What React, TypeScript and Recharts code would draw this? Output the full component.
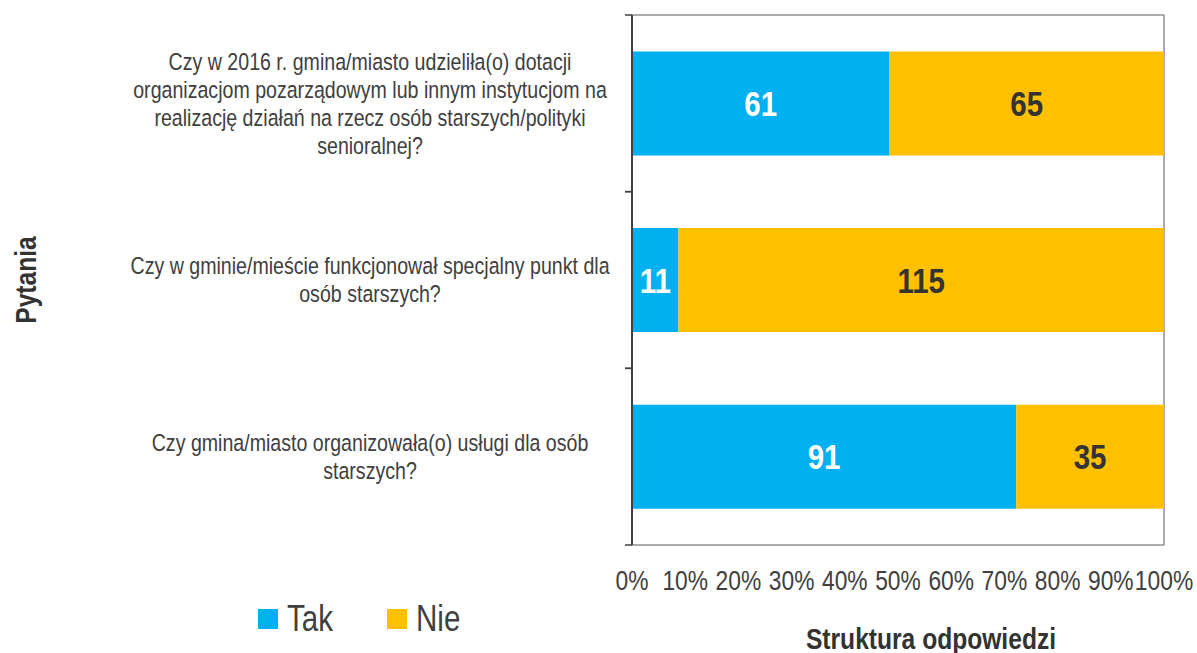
import React from 'react';
import { BarChart, Bar, XAxis, YAxis, CartesianGrid } from 'recharts';

const FONT = "'Liberation Sans', Arial, sans-serif";
const NARROW = 0.82;

const categories = [
  'Czy w 2016 r. gmina/miasto udzieliła(o) dotacji\norganizacjom pozarządowym lub innym instytucjom na\nrealizację działań na rzecz osób starszych/polityki\nsenioralnej?',
  'Czy w gminie/mieście funkcjonował specjalny punkt dla\nosób starszych?',
  'Czy gmina/miasto organizowała(o) usługi dla osób\nstarszych?',
];
const takValues = [61, 11, 91];
const nieValues = [65, 115, 35];
const xTicks = [0, 0.1, 0.2, 0.3, 0.4, 0.5, 0.6, 0.7, 0.8, 0.9, 1];
const xTickLabels = ['0%', '10%', '20%', '30%', '40%', '50%', '60%', '70%', '80%', '90%', '100%'];
const seriesNames = ['Tak', 'Nie'];
const seriesColors = ['#00B0F0', '#FFC000'];

const data = categories.map((q, i) => ({ q, tak: takValues[i], nie: nieValues[i] }));

const CategoryTick = (props: any) => {
  const { x, y, payload } = props;
  const lines = String(payload.value).split('\n');
  const lh = 28;
  const cx = x - 262;
  const startY = -((lines.length - 1) * lh) / 2;
  const half = payload.offset ?? 0;
  return (
    <g>
      <line x1={x - 7} x2={x} y1={y - half} y2={y - half} stroke="#404040" strokeWidth={1.5} />
      <line x1={x - 7} x2={x} y1={y + half} y2={y + half} stroke="#404040" strokeWidth={1.5} />
      <g transform={`translate(${cx},${y}) scale(${NARROW},1)`}>
        <text x={0} y={startY} textAnchor="middle" fontFamily={FONT} fontSize={23.9} fill="#404040">
          {lines.map((l, i) => (
            <tspan key={i} x={0} y={startY + i * lh} dominantBaseline="central">
              {l}
            </tspan>
          ))}
        </text>
      </g>
    </g>
  );
};

const XTick = (props: any) => {
  const { x, y, index } = props;
  return (
    <g transform={`translate(${x},${y + 37}) scale(0.8,1)`}>
      <text x={0} y={0} textAnchor="middle" fontFamily={FONT} fontSize={28.5} fill="#404040">
        {xTickLabels[index] ?? ''}
      </text>
    </g>
  );
};

const makeLabel = (values: number[], color: string) => (props: any) => {
  const { x, y, width, height, index } = props;
  return (
    <g transform={`translate(${x + width / 2},${y + height / 2}) scale(${NARROW},1)`}>
      <text
        x={0}
        y={0}
        textAnchor="middle"
        dominantBaseline="central"
        fontFamily={FONT}
        fontWeight="bold"
        fontSize={36}
        fill={color}
      >
        {values[index]}
      </text>
    </g>
  );
};

const narrowText: React.CSSProperties = {
  display: 'inline-block',
  transform: `scaleX(${NARROW})`,
  transformOrigin: 'left center',
};

export default function App() {
  return (
    <div style={{ position: 'absolute', left: 0, top: 0, width: 1197, height: 653, background: '#fff' }}>
      <BarChart
        width={1197}
        height={653}
        layout="vertical"
        data={data}
        stackOffset="expand"
        barCategoryGap="20.6%"
        margin={{ top: 15, right: 33, bottom: 48, left: 0 }}
      >
        <CartesianGrid
          stroke="#595959"
          strokeWidth={1}
          horizontalCoordinatesGenerator={({ offset }: any) => [offset.top, offset.top + offset.height]}
          verticalCoordinatesGenerator={({ offset }: any) => [offset.left + offset.width]}
        />
        <XAxis
          type="number"
          domain={[0, 1]}
          ticks={xTicks}
          height={60}
          axisLine={false}
          tickLine={false}
          tick={<XTick />}
          interval={0}
        />
        <YAxis
          type="category"
          dataKey="q"
          width={632}
          axisLine={{ stroke: '#404040', strokeWidth: 2 }}
          tickLine={false}
          tickSize={0}
          tickMargin={0}
          tick={<CategoryTick />}
          interval={0}
        />
        <Bar
          dataKey="tak"
          name={seriesNames[0]}
          stackId="a"
          fill={seriesColors[0]}
          isAnimationActive={false}
          label={makeLabel(takValues, '#FFFFFF')}
        />
        <Bar
          dataKey="nie"
          name={seriesNames[1]}
          stackId="a"
          fill={seriesColors[1]}
          isAnimationActive={false}
          label={makeLabel(nieValues, '#333333')}
        />
      </BarChart>

      {/* Legend */}
      <div style={{ position: 'absolute', left: 258, top: 599, fontFamily: FONT, fontSize: 36, color: '#404040', lineHeight: '40px' }}>
        {seriesNames.map((n, i) => (
          <div key={n} style={{ position: 'absolute', left: i * 129, top: 0, display: 'flex', alignItems: 'center', whiteSpace: 'nowrap' }}>
            <div style={{ width: 20, height: 20, background: seriesColors[i], marginRight: 9, flex: 'none' }} />
            <span style={narrowText}>{n}</span>
          </div>
        ))}
      </div>

      {/* X axis title */}
      <div style={{ position: 'absolute', left: 931, top: 639, width: 0, height: 0 }}>
        <div style={{ position: 'absolute', transform: `translate(-50%, -50%) scaleX(${NARROW})`, whiteSpace: 'nowrap', fontFamily: FONT, fontSize: 30, fontWeight: 'bold', color: '#333333', lineHeight: '34px' }}>
          Struktura odpowiedzi
        </div>
      </div>

      {/* Y axis title */}
      <div style={{ position: 'absolute', left: 26, top: 280, width: 0, height: 0 }}>
        <div style={{ position: 'absolute', transform: `translate(-50%, -50%) rotate(-90deg) scaleX(${NARROW})`, whiteSpace: 'nowrap', fontFamily: FONT, fontSize: 30, fontWeight: 'bold', color: '#333333', lineHeight: '34px' }}>
          Pytania
        </div>
      </div>
    </div>
  );
}
